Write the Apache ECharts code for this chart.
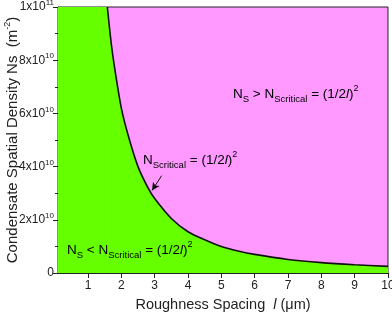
<!DOCTYPE html>
<html><head><meta charset="utf-8">
<script src="https://cdn.jsdelivr.net/npm/echarts@6/dist/echarts.min.js"></script>
<style>html,body{margin:0;padding:0;background:#fff}#c{width:392px;height:316px}</style>
</head><body><div id="c"></div>
<script>
// Roughness spacing l (μm)
var spacing = [0.1, 1.58, 1.7, 1.8, 2.0, 2.2, 2.5, 2.8, 3.0, 3.5, 4.0, 4.5, 5.0, 5.5, 6.0, 7.0, 8.0, 9.0, 10.0];
// Critical density Ns (m^-2) (left part sits at the top of the axis)
var critical = [1e11, 1e11, 8.6e10, 7.7e10, 6.2e10, 5.2e10, 4.0e10, 3.2e10, 2.8e10, 2.05e10, 1.55e10, 1.25e10, 1.0e10, 0.83e10, 0.7e10, 0.51e10, 0.39e10, 0.31e10, 0.25e10];
var xTicks = [1, 2, 3, 4, 5, 6, 7, 8, 9, 10];
var arrowFrom = [3.21, 3.66e10];
var arrowTo = [2.92, 3.1e10];

var FONT = 'Liberation Sans, Arial, sans-serif';
var chart = echarts.init(document.getElementById('c'));
var data = spacing.map(function (x, i) { return [x, critical[i]]; });
var topData = data.slice(0, 2);
var curveData = data.slice(1);

var eqRich = {
  m: {fontSize: 13.5, fontFamily: FONT, color: '#111', lineHeight: 20, verticalAlign: 'middle'},
  sub: {fontSize: 9.5, fontFamily: FONT, color: '#111', lineHeight: 9, verticalAlign: 'bottom'},
  sup: {fontSize: 9, fontFamily: FONT, color: '#111', lineHeight: 9, verticalAlign: 'top'},
  it: {fontSize: 13.5, fontFamily: FONT, color: '#111', lineHeight: 20, verticalAlign: 'middle', fontStyle: 'italic'}
};
function eqText(rel) {
  return (rel ? '{m|N}{sub|S}{m| ' + rel + ' N}' : '{m|N}') + '{sub|Scritical}{m| = (1/2}{it|l}{m|)}{sup|2}';
}

chart.setOption({
  animation: false,
  grid: {left: 58, right: 4, top: 7, bottom: 43, outerBoundsMode: 'none', containLabel: false,
    show: true, backgroundColor: '#ff99ff', borderColor: '#222', borderWidth: 1},
  xAxis: {
    type: 'value', min: 0.1, max: 10,
    axisLine: {onZero: false, lineStyle: {color: '#222', width: 1}},
    axisTick: {show: true, inside: false, length: 5, customValues: xTicks, lineStyle: {color: '#222'}},
    axisLabel: {customValues: xTicks, color: '#222', fontSize: 12, fontFamily: FONT, margin: 7},
    splitLine: {show: false},
    name: '{m|Roughness Spacing  }{it|l}{m| (\u03bcm)}',
    nameLocation: 'middle', nameGap: 24, nameMoveOverlap: false,
    nameTextStyle: {rich: {
      m: {fontSize: 14.5, fontFamily: FONT, color: '#222'},
      it: {fontSize: 14.5, fontFamily: FONT, color: '#222', fontStyle: 'italic'}
    }}
  },
  yAxis: {
    type: 'value', min: 0, max: 1e11, interval: 2e10,
    axisLine: {show: true, lineStyle: {color: '#222', width: 1}},
    axisTick: {show: true, inside: false, length: 5, lineStyle: {color: '#222'}},
    minorTick: {show: true, splitNumber: 2, length: 3, lineStyle: {color: '#222'}},
    splitLine: {show: false},
    axisLabel: {
      margin: 4,
      formatter: function (v) {
        if (v === 0) return '{b|0}';
        if (v >= 1e11) return '{b|1x10}{s|11}';
        return '{b|' + Math.round(v / 1e10) + 'x10}{s|10}';
      },
      rich: {
        b: {fontSize: 12, fontFamily: FONT, color: '#222', lineHeight: 16, verticalAlign: 'middle'},
        s: {fontSize: 8, fontFamily: FONT, color: '#222', lineHeight: 8, verticalAlign: 'top'}
      }
    },
    name: '{m|Condensate Spatial Density Ns  (m}{s|-2}{m|)}',
    nameLocation: 'middle', nameGap: 45, nameMoveOverlap: false,
    nameTextStyle: {verticalAlign: 'middle', rich: {
      m: {fontSize: 15, fontFamily: FONT, color: '#222', lineHeight: 20, verticalAlign: 'middle'},
      s: {fontSize: 9, fontFamily: FONT, color: '#222', lineHeight: 9, verticalAlign: 'top'}
    }}
  },
  series: [{
    type: 'line', data: topData, symbol: 'none',
    lineStyle: {width: 0},
    areaStyle: {color: '#66ff00', opacity: 1, origin: 'start'},
    z: 1
  }, {
    type: 'line', data: curveData, symbol: 'none', smooth: 0.3,
    lineStyle: {color: '#111', width: 1.6},
    areaStyle: {color: '#66ff00', opacity: 1, origin: 'start'},
    markLine: {
      silent: true, symbol: ['none', 'arrow'], symbolSize: [6, 8],
      label: {show: false},
      lineStyle: {color: '#111', width: 1, type: 'solid'},
      data: [[{coord: arrowFrom}, {coord: arrowTo}]]
    },
    z: 2
  }],
  graphic: [
    {type: 'text', left: 233, top: 84, z: 10, style: {text: eqText('>'), rich: eqRich}},
    {type: 'text', left: 143, top: 150, z: 10, style: {text: eqText(''), rich: eqRich}},
    {type: 'text', left: 67, top: 240, z: 10, style: {text: eqText('<'), rich: eqRich}}
  ]
});
</script></body></html>
